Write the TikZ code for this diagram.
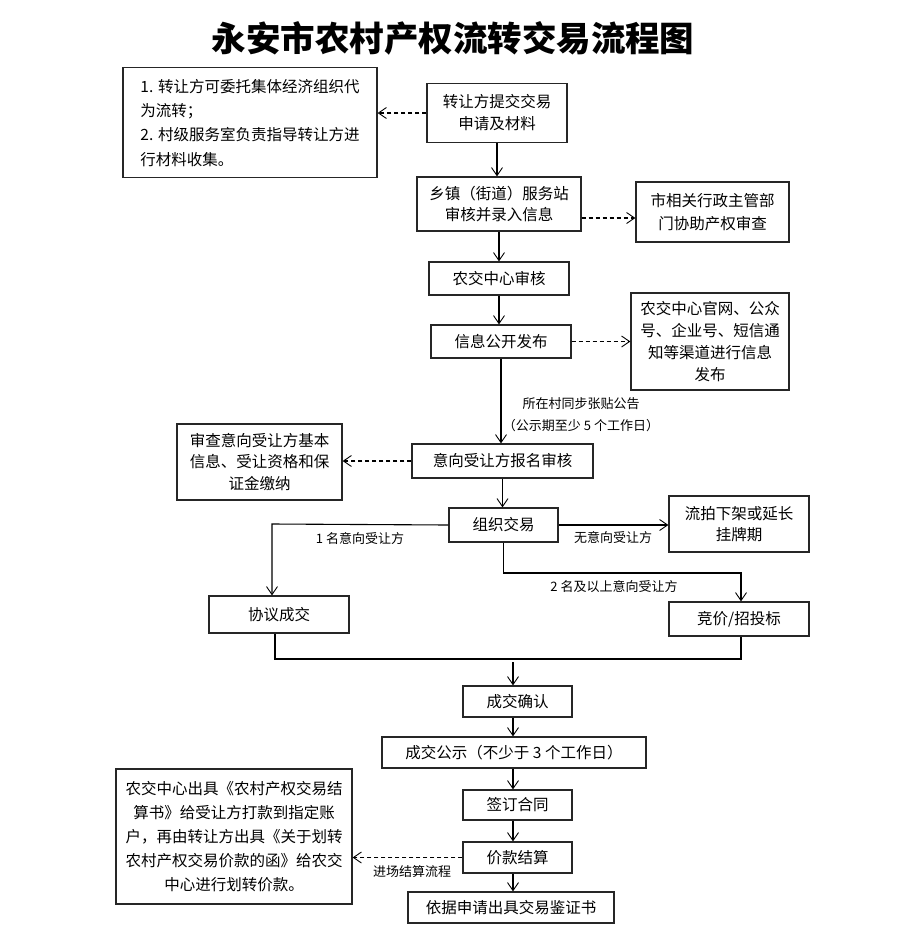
\documentclass[tikz,border=0pt]{standalone}
\usepackage{fontspec}
\setmainfont{Noto Sans CJK SC}
\usetikzlibrary{arrows.meta}
\tikzset{
  box/.style={draw=black!85, line width=1.3pt, inner sep=0pt, align=center,
    font=\fontsize{15.5}{22}\selectfont},
  lbl/.style={inner sep=0pt, align=center, font=\fontsize{13}{22}\selectfont},
  arr/.style={-{Straight Barb[length=8pt,width=11pt,line width=0.9pt]}, line width=1.1pt},
  darr/.style={arr, dash pattern=on 4pt off 3pt},
  ln/.style={line width=1.1pt}
}
\begin{document}
\begin{tikzpicture}[x=1pt,y=-1pt]
\useasboundingbox (0,0) rectangle (901,938);
% title
\node[inner sep=0pt, font=\fontsize{34.5}{40}\selectfont\bfseries] (title) at (453,38) {永安市农村产权流转交易流程图};
% boxes
\node[box, minimum width=254, minimum height=110, align=left, font=\fontsize{15.5}{24.3}\selectfont] (n1) at (250,122.7)
  {1. 转让方可委托集体经济组织代\\为流转；\\2. 村级服务室负责指导转让方进\\行材料收集。};
\node[box, minimum width=140, minimum height=59] (b2) at (497,113) {转让方提交交易\\申请及材料};
\node[box, minimum width=164, minimum height=54, font=\fontsize{15.5}{21}\selectfont] (b3) at (499,204) {乡镇（街道）服务站\\审核并录入信息};
\node[box, minimum width=153, minimum height=60, font=\fontsize{15.5}{23}\selectfont] (b4) at (712.5,212) {市相关行政主管部\\门协助产权审查};
\node[box, minimum width=140, minimum height=33] (b5) at (499,278.5) {农交中心审核};
\node[box, minimum width=140, minimum height=33] (b6) at (501,341.5) {信息公开发布};
\node[box, minimum width=158, minimum height=97, font=\fontsize{15.5}{21.8}\selectfont] (b7) at (710,341.5) {农交中心官网、公众\\号、企业号、短信通\\知等渠道进行信息\\发布};
\node[box, minimum width=181, minimum height=34] (b8) at (502.5,461) {意向受让方报名审核};
\node[box, minimum width=165, minimum height=76, font=\fontsize{15.5}{21.5}\selectfont] (b9) at (259.5,462) {审查意向受让方基本\\信息、受让资格和保\\证金缴纳};
\node[box, minimum width=109, minimum height=34] (b10) at (503.5,525) {组织交易};
\node[box, minimum width=140, minimum height=56, font=\fontsize{15.5}{20.5}\selectfont] (b11) at (739,524) {流拍下架或延长\\挂牌期};
\node[box, minimum width=140, minimum height=37] (b12) at (279,614.5) {协议成交};
\node[box, minimum width=140, minimum height=34] (b13) at (739,619) {竞价/招投标};
\node[box, minimum width=109, minimum height=31] (b14) at (517.5,701.5) {成交确认};
\node[box, minimum width=264, minimum height=31] (b15) at (514,752.5) {成交公示（不少于 3 个工作日）};
\node[box, minimum width=109, minimum height=30] (b16) at (517.5,805) {签订合同};
\node[box, minimum width=109, minimum height=31] (b17) at (517.5,857.5) {价款结算};
\node[box, minimum width=206, minimum height=31] (b18) at (511,907.5) {依据申请出具交易鉴证书};
\node[box, minimum width=236, minimum height=135, font=\fontsize{15.5}{23.8}\selectfont] (b19) at (234,836.5)
  {农交中心出具《农村产权交易结\\算书》给受让方打款到指定账\\户，再由转让方出具《关于划转\\农村产权交易价款的函》给农交\\中心进行划转价款。};
% labels
\node[lbl] (l1) at (581,415) {所在村同步张贴公告\\（公示期至少 5 个工作日）};
\node[lbl] (l2) at (360,539) {1 名意向受让方};
\node[lbl] (l3) at (613,538) {无意向受让方};
\node[lbl] (l4) at (614,587) {2 名及以上意向受让方};
\node[lbl] (l5) at (412,872) {进场结算流程};
% helper coordinates
\coordinate (c1) at (272,524);
\coordinate (c2) at (741,573);
\coordinate (jL) at (275,659);
\coordinate (jR) at (741,659);
\coordinate (jM) at (513,662);
% main flow
\draw[arr] (b2.south) -- (b2.south |- b3.north);
\draw[arr] (b3.south) -- (b3.south |- b5.north);
\draw[arr] (b5.south) -- (b5.south |- b6.north);
\draw[arr] (b6.south) -- (b6.south |- b8.north);
\draw[arr] (b8.south) -- (b8.south |- b10.north);
\draw[arr] (b10.west) -- (c1) -- (c1 |- b12.north);
\draw[arr] (b10.east) -- (b10.east -| b11.west);
\draw[arr] (b10.south) |- (c2) -- (c2 |- b13.north);
\draw[ln] (jL |- b12.south) -- (jL) -- (jR) -- (jR |- b13.south);
\draw[arr] (jM) -- (jM |- b14.north);
\draw[arr] ([xshift=-4.5pt]b14.south) -- ([xshift=-4.5pt]b14.south |- b15.north);
\draw[arr] ([xshift=-4.5pt]b14.south |- b15.south) -- ([xshift=-4.5pt]b14.south |- b16.north);
\draw[arr] ([xshift=-4.5pt]b16.south) -- ([xshift=-4.5pt]b16.south |- b17.north);
\draw[arr] ([xshift=-4.5pt]b17.south) -- ([xshift=-4.5pt]b17.south |- b18.north);
% dashed side arrows
\draw[darr] (b2.west) -- (b2.west -| n1.east);
\draw[darr] (b3.east |- 0,218) -- (b4.west |- 0,218);
\draw[darr] (b6.east) -- (b6.east -| b7.west);
\draw[darr] (b8.west) -- (b8.west -| b9.east);
\draw[darr] (b17.west) -- (b17.west -| b19.east);
\end{tikzpicture}
\end{document}
